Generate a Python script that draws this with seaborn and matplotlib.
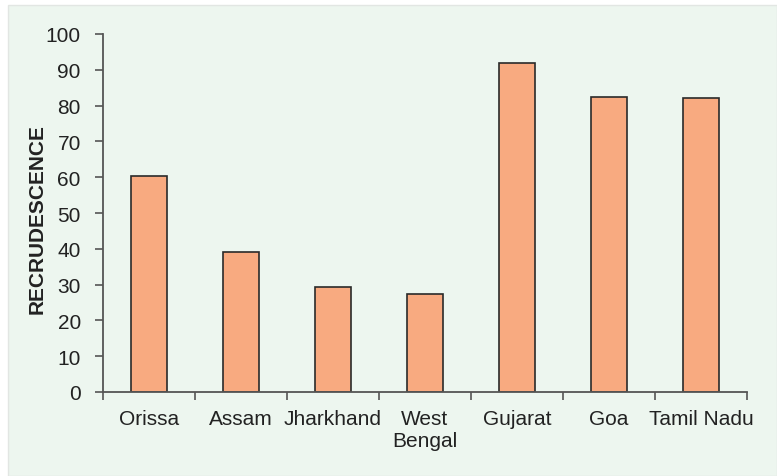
import matplotlib
matplotlib.use("Agg")
import matplotlib.pyplot as plt
import seaborn as sns
import pandas as pd
from matplotlib.patches import Rectangle

states = ["Orissa", "Assam", "Jharkhand", "West\nBengal", "Gujarat", "Goa", "Tamil Nadu"]
recrudescence = [60.2, 39.2, 29.3, 27.3, 92.0, 82.5, 82.1]
y_ticks = [0, 10, 20, 30, 40, 50, 60, 70, 80, 90, 100]

df = pd.DataFrame({"state": states, "value": recrudescence})

sns.set_theme(style="white")
plt.rcParams["font.family"] = ["Liberation Sans", "DejaVu Sans"]

W, H = 777, 477
fig = plt.figure(figsize=(W / 100, H / 100), dpi=100, facecolor="white")

# light green panel behind the chart
panel = Rectangle((8 / W, 0), 1 - 8 / W, 1 - 6 / H, transform=fig.transFigure,
                  facecolor="#EDF6EF", edgecolor="#E2E6E3", linewidth=1.0, zorder=-5)
fig.patches.append(panel)

x0, x1, y_top, y_bot = 103, 747, 35, 393
ax = fig.add_axes([x0 / W, (H - y_bot) / H, (x1 - x0) / W, (y_bot - y_top) / H])
ax.set_facecolor("none")
ax.set_zorder(2)

sns.barplot(data=df, x="state", y="value", ax=ax, color="#F8AA80",
            saturation=1, width=0.4, edgecolor="#2A2A2A", linewidth=1.2)

ax.set_xlim(-0.5, len(states) - 0.5)
ax.set_ylim(0, 100)
ax.set_yticks(y_ticks)
ax.set_yticklabels([str(t) for t in y_ticks], fontsize=15, color="#222222")

# category ticks sit at the boundaries between bars
ax.set_xticks([i for i in range(len(states))])
ax.set_xticklabels(states, fontsize=15, color="#222222", linespacing=1.2)
ax.tick_params(axis="x", length=0, pad=12)
ax.set_xticks([i - 0.5 for i in range(len(states) + 1)], minor=True)
ax.tick_params(axis="x", which="minor", length=6, width=1.2, color="#555555", direction="out", bottom=True)
ax.tick_params(axis="y", length=6, width=1.2, color="#555555", direction="out", pad=10, left=True)
for lbl in ax.get_xticklabels():
    lbl.set_verticalalignment("top")

for side in ["top", "right"]:
    ax.spines[side].set_visible(False)
for side in ["left", "bottom"]:
    ax.spines[side].set_color("#555555")
    ax.spines[side].set_linewidth(1.3)

ax.set_xlabel("")
ax.set_ylabel("RECRUDESCENCE", fontsize=15, fontweight="bold", color="#222222")
ax.yaxis.set_label_coords((47 - x0) / (x1 - x0), (y_bot - 219) / (y_bot - y_top))

fig.savefig("out.png", dpi=100, facecolor="white")
